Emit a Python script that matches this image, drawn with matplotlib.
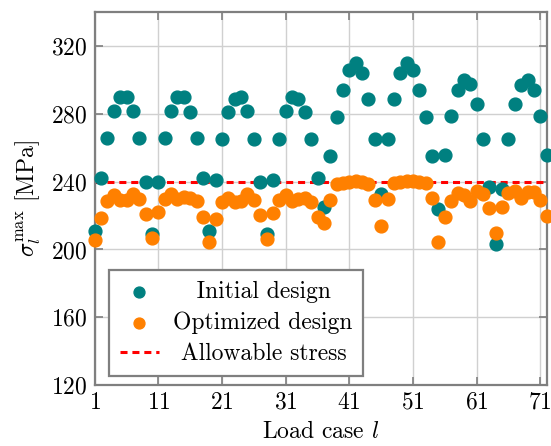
import numpy as np
import matplotlib
matplotlib.use("Agg")
import matplotlib.pyplot as plt

plt.rcParams['font.family'] = 'serif'
plt.rcParams['font.serif'] = ['cmr10']
plt.rcParams['mathtext.fontset'] = 'cm'
plt.rcParams['axes.formatter.use_mathtext'] = True
plt.rcParams['font.size'] = 17

# max von Mises stress per load case (MPa)
load_cases = np.arange(1, 73)
initial = [211, 242, 266, 282, 290, 290, 282, 266, 240, 209,
           240, 266, 282, 290, 290, 281, 266, 242, 211, 241,
           265, 281, 289, 290, 282, 265, 240, 209, 241, 265,
           282, 290, 289, 281, 265, 242, 225, 255, 278, 294,
           306, 310, 304, 289, 265, 233, 265, 289, 304, 310,
           306, 294, 278, 255, 224, 256, 279, 294, 300, 298,
           286, 265, 237, 203, 236, 265, 286, 297, 300, 294,
           279, 256]
optimized = [205.5, 218.7, 228.5, 232.0, 229.0, 229.0, 233.0, 230.0, 221.0, 207.0,
             222.0, 230.0, 233.0, 230.0, 231.0, 230.5, 228.7, 219.3, 204.2, 218.0,
             228.0, 230.5, 228.0, 228.7, 232.5, 229.5, 220.5, 206.0, 221.3, 229.5,
             232.0, 228.5, 229.7, 230.5, 227.8, 219.3, 215.4, 229.0, 238.4, 239.4,
             240.0, 240.3, 240.0, 238.4, 229.5, 214.0, 229.7, 239.0, 240.0, 240.3,
             240.3, 240.0, 239.0, 230.5, 204.6, 219.0, 228.5, 233.5, 232.0, 228.5,
             234.5, 233.0, 224.6, 210.0, 225.0, 233.5, 234.5, 230.5, 234.0, 233.7,
             229.0, 219.7]
allowable = 240

xticks = [1, 11, 21, 31, 41, 51, 61, 71]
yticks = [120, 160, 200, 240, 280, 320]

teal = '#008080'
orange = '#ff8000'
frame = '#7f7f7f'

fig = plt.figure(figsize=(5.51, 4.46), dpi=100)
ax = fig.add_axes([0.172, 0.137, 0.82, 0.835])

ax.scatter(load_cases, initial, s=85, color=teal, zorder=3,
           label='   Initial design', clip_on=False)
ax.scatter(load_cases, optimized, s=85, color=orange, zorder=4,
           label='Optimized design', clip_on=False)
ax.axhline(allowable, color='red', linestyle=(0, (2.3, 1.6)), linewidth=2.2, zorder=2,
           label=' Allowable stress')

ax.set_xlim(1, 72)
ax.set_ylim(120, 340)
ax.set_xticks(xticks)
ax.set_yticks(yticks)
ax.grid(True, color='#d0d0d0', linewidth=1)
ax.set_axisbelow(True)
ax.tick_params(direction='in', length=6, width=1.2, color=frame, top=True, right=True,
               labelsize=17, pad=5)
for sp in ax.spines.values():
    sp.set_color(frame)
    sp.set_linewidth(1.6)

ax.set_xlabel('Load case $l$', fontsize=17, labelpad=5)
ax.set_ylabel(r'$\sigma_l^{\max}$ [MPa]', fontsize=17, labelpad=6)

leg = ax.legend(loc='lower left', bbox_to_anchor=(0.031, 0.024), fancybox=False,
                edgecolor=frame, framealpha=1, fontsize=17, handlelength=1.65,
                markerscale=0.85, borderpad=0.47, labelspacing=0.37, handletextpad=0.6,
                borderaxespad=0)
leg.get_frame().set_linewidth(1.6)

fig.savefig('out.png', dpi=100)
